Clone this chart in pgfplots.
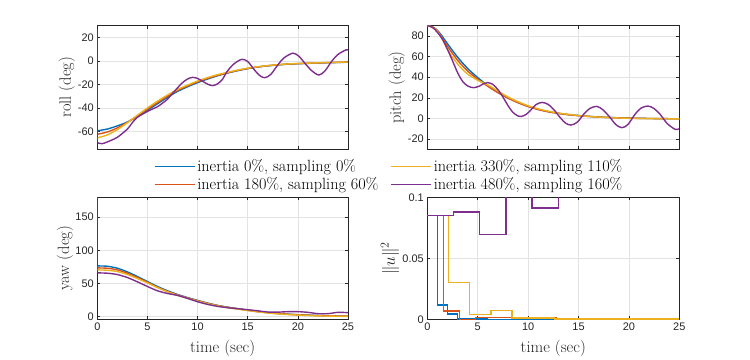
\documentclass[border=0pt]{standalone}
\usepackage{fontspec}
\usepackage{pgfplots}
\pgfplotsset{compat=1.18}
\newfontfamily\ticksf{Liberation Sans}
\definecolor{c1}{rgb}{0,0.447,0.741}
\definecolor{c2}{rgb}{0.85,0.325,0.098}
\definecolor{c3}{rgb}{0.929,0.694,0.125}
\definecolor{c4}{rgb}{0.494,0.184,0.556}
\definecolor{axc}{rgb}{0.15,0.15,0.15}

\pgfplotsset{
  panel/.style={
    scale only axis, anchor=south west,
    xmin=0, xmax=25, xtick={0,5,...,25},
    grid=major, major grid style={black!11, line width=0.5bp},
    axis line style={axc, line width=0.5bp},
    tick style={axc, line width=0.5bp},
    tick align=inside, major tick length=3bp,
    tick label style={font=\ticksf\fontsize{11}{13}\selectfont, text=axc},
    /pgf/number format/assume math mode=true,
    label style={font=\fontsize{16.5}{19}\selectfont, text=axc},
    xlabel style={at={(axis description cs:0.5,0)}, anchor=center, yshift=-29bp},
    every axis plot/.append style={line width=1.4bp},
  },
}

\begin{document}
\begin{tikzpicture}
\path[use as bounding box] (0,0) rectangle (750bp,360bp);

% roll
\begin{axis}[panel, at={(97.3bp,211bp)}, width=250.7bp, height=123.3bp,
    ymin=-75, ymax=30, ytick={-60,-40,-20,0,20}, xticklabels={},
    ylabel={roll (deg)}, ylabel style={at={(axis description cs:-0.122,0.5)}, anchor=center},
    legend columns=2, legend cell align=left,
    legend style={at={(axis description cs:0.225,-0.07)}, anchor=north west, draw=none, fill=white,
      font=\fontsize{16.3}{18}\selectfont, inner sep=0pt, row sep=0bp,
      /tikz/every even column/.append style={column sep=10bp}},
    legend image code/.code={\draw[#1] (0bp,0bp) -- (40bp,0bp);},
]
  \addplot[c1, smooth, forget plot] coordinates {
    (0,-59.5) (1,-58) (2,-55.3) (3,-52) (4,-47.3) (5,-42) (6,-36.5) (7,-31) (8,-26) (9,-22)
    (10,-18.5) (11,-15.4) (12,-12.6) (13,-10.3) (14,-8.3) (15,-6.6) (16,-5.2) (17,-4.2) (18,-3.4)
    (19,-2.8) (20,-2.4) (22,-1.8) (25,-1.1)};
  \addplot[c2, smooth, forget plot] coordinates {
    (0,-62.5) (1,-60.5) (2,-57) (3,-52.3) (4,-46.8) (5,-41) (6,-35.5) (7,-30) (8,-25.2) (9,-21.3)
    (10,-17.8) (11,-14.9) (12,-12.3) (13,-10.1) (14,-8.1) (15,-6.4) (16,-5.1) (17,-4.1) (18,-3.3)
    (19,-2.7) (20,-2.3) (22,-1.7) (25,-1.0)};
  \addplot[c3, smooth, forget plot] coordinates {
    (0,-65.5) (1,-63) (2,-58.5) (3,-52.6) (4,-46.3) (5,-40) (6,-34.3) (7,-29) (8,-24.3) (9,-20.6)
    (10,-17.1) (11,-14.2) (12,-11.7) (13,-9.7) (14,-7.8) (15,-6.2) (16,-5) (17,-4) (18,-3.2)
    (19,-2.6) (20,-2.2) (22,-1.6) (25,-0.9)};
  \addplot[c4, forget plot] coordinates {(0.04,27) (0.04,-69.7)};
  \addplot[c4, smooth, forget plot] coordinates {
    (0.04,-69.7) (0.45,-70.5) (1,-69) (2,-65) (3,-58) (3.5,-52.5) (4,-48) (5,-43) (5.5,-41) (6,-39)
    (6.5,-36) (7,-32.6) (7.5,-27.7) (8,-22.9) (8.5,-18.5) (9,-15.4) (9.5,-14) (10,-14.9) (10.5,-17.3)
    (11,-19.8) (11.5,-21) (12,-19.5) (12.5,-15.5) (12.9,-9.5) (13.5,-3.5) (14,-0.3) (14.45,1.4)
    (15,-0.5) (15.7,-8) (16.2,-12.5) (16.7,-14.3) (17.3,-11.5) (18,-3.4) (18.6,2.5) (19.5,6.6)
    (20.1,4) (20.7,-2) (21.4,-8.5) (22.1,-12) (22.7,-8.5) (23.35,-0.6) (24,5.5) (24.8,9.4) (25,9.2)};
  \addlegendimage{c1, line width=1.4bp}
  \addlegendentry{inertia 0\%, sampling 0\%}
  \addlegendimage{c3, line width=1.4bp}
  \addlegendentry{inertia 330\%, sampling 110\%}
  \addlegendimage{c2, line width=1.4bp}
  \addlegendentry{inertia 180\%, sampling 60\%}
  \addlegendimage{c4, line width=1.4bp}
  \addlegendentry{inertia 480\%, sampling 160\%}
\end{axis}

% pitch
\begin{axis}[panel, at={(427.3bp,210.7bp)}, width=252bp, height=123.6bp,
    ymin=-30, ymax=90, ytick={-20,0,20,40,60,80}, xticklabels={},
    ylabel={pitch (deg)}, ylabel style={at={(axis description cs:-0.121,0.5)}, anchor=center},
]
  \addplot[c1, smooth] coordinates {
    (0,90) (0.5,89) (1,85.5) (1.5,79.5) (2,72.5) (3,59.5) (4,48.5) (5,39.6) (6,31.8) (7,25.3)
    (8,20) (9,15.5) (10,11.8) (11,8.8) (12,6.6) (13,5) (14,3.7) (15,2.8) (16,2) (17,1.4) (18,0.9)
    (19,0.6) (20,0.3) (22,-0.1) (25,-0.4)};
  \addplot[c2, smooth] coordinates {
    (0,90) (0.5,88.8) (1,85) (1.5,78) (2,70) (3,56.5) (4,46) (5,38) (6,31.2) (7,25) (8,19.7)
    (9,15.2) (10,11.5) (11,8.6) (12,6.4) (13,4.8) (14,3.5) (15,2.6) (17,1.3) (20,0.2) (25,-0.4)};
  \addplot[c3, smooth] coordinates {
    (0,90) (0.5,88.5) (1,84.5) (1.5,76.5) (2,67) (2.5,59.5) (3,53) (3.5,47.5) (4,43) (5,37)
    (6,32.5) (7,26.6) (8,20.8) (9,16.2) (10,12.3) (11,9.3) (12,7) (13,5.2) (14,3.9) (15,2.8)
    (17,1.3) (20,0.1) (25,-0.5)};
  \addplot[c4, smooth] coordinates {
    (0,90) (0.5,88.5) (1,83.5) (1.5,77) (2,67) (2.5,56) (3,44.5) (3.5,36) (4,31.5) (4.6,29.8)
    (5.2,31.5) (5.6,33.8) (6,34.7) (6.5,33) (7,28) (7.5,20.8) (8,12.5) (8.5,5.8) (9,2.3) (9.3,1.8)
    (9.8,3.8) (10.3,8.5) (10.8,13.5) (11.4,15.5) (12,13.5) (12.6,8) (13.2,0.6) (13.7,-4.5)
    (14.25,-6.5) (14.9,-3.5) (15.5,3.9) (16.1,9.5) (16.8,11.7) (17.4,8.5) (18.1,1.3) (18.7,-6)
    (19.3,-9) (19.9,-6) (20.6,3.9) (21.2,10) (21.9,12) (22.5,9.5) (23.1,3.9) (23.8,-5)
    (24.6,-10.7) (25,-10)};
\end{axis}

% yaw
\begin{axis}[panel, at={(97.3bp,40.7bp)}, width=250.7bp, height=122bp,
    ymin=-4, ymax=180, ytick={0,50,100,150},
    xlabel={time (sec)},
    ylabel={yaw (deg)}, ylabel style={at={(axis description cs:-0.129,0.5)}, anchor=center},
]
  \addplot[c1, smooth] coordinates {
    (0,76.5) (1,76) (2,73) (3,67.5) (4,60.5) (5,53) (6,45.5) (7,39) (8,33.5) (9,28.8) (10,24.5)
    (11,20.5) (12,17) (13,14.3) (14,12) (15,9.8) (16,7.8) (17,6.2) (18,4.8) (19,3.8) (20,3)
    (21,2.3) (22,1.8) (23,1.3) (24,1) (25,0.8)};
  \addplot[c2, smooth] coordinates {
    (0,73.5) (1,73) (2,70.5) (3,65.5) (4,59) (5,51.8) (6,44.5) (7,38) (8,32.8) (9,28.2) (10,24)
    (11,20) (12,16.7) (13,14) (14,11.8) (15,9.6) (16,7.6) (17,6) (18,4.6) (19,3.6) (20,2.8)
    (22,1.6) (25,0.7)};
  \addplot[c3, smooth] coordinates {
    (0,70.5) (1,70) (2,68) (3,63.5) (4,57.5) (5,50.8) (6,43.8) (7,37.5) (8,32.3) (9,27.8) (10,23.6)
    (11,19.6) (12,16.3) (13,13.6) (14,11.3) (15,9.2) (16,7.2) (17,5.6) (18,4.2) (19,3.2) (20,2.4)
    (22,1.2) (25,0.3)};
  \addplot[c4] coordinates {(0.04,180) (0.04,66)};
  \addplot[c4, smooth] coordinates {
    (0.04,66) (1,65.5) (2,63.5) (3,59) (4,52.5) (5,45.5) (6,39) (7,35) (8,32) (9,27.5) (10,22.5)
    (11,18.5) (12,15.5) (13,13.5) (14,12) (15,10.5) (16,8.8) (17,7) (18,6.8) (19,7.5) (20,7.5)
    (21,6.5) (22,4.5) (23,4.5) (24,6.5) (25,6)};
\end{axis}

% control effort
\begin{axis}[panel, at={(427.3bp,40.7bp)}, width=252bp, height=122bp,
    ymin=0, ymax=0.1, ytick={0,0.05,0.1}, yticklabels={0,0.05,0.1}, scaled y ticks=false,
    xlabel={time (sec)},
    ylabel={$\|u\|^2$}, ylabel style={at={(axis description cs:-0.148,0.5)}, anchor=center},
]
  \addplot[c1, const plot] coordinates {
    (0,0.085) (1,0.0118) (2,0.0045) (3,0.0003) (6,0) (25,0)};
  \addplot[c2, const plot] coordinates {
    (0,0.085) (1.6,0.0067) (3.2,0) (4.8,0.0013) (12.8,0) (25,0)};
  \addplot[c3, const plot] coordinates {
    (0,0.085) (2.1,0.0303) (4.2,0.0037) (6.3,0.0073) (8.4,0.0011) (12.6,0.0004) (16.8,0.0001) (25,0.0001)};
  \addplot[c4, const plot] coordinates {
    (0,0.085) (2.6,0.088) (5.2,0.0695) (7.8,0.15) (10.4,0.0913) (13,0.15) (25,0.15)};
\end{axis}
\end{tikzpicture}
\end{document}
